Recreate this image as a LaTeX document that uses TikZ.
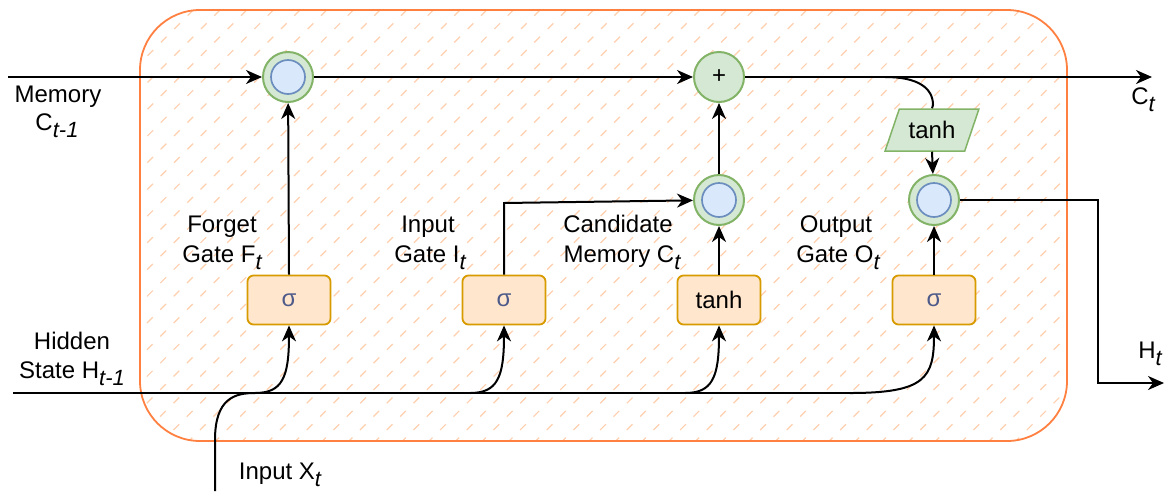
\documentclass[tikz,border=0pt]{standalone}
\usepackage{fontspec}
\setmainfont{Liberation Sans}
\usetikzlibrary{arrows.meta,shapes.geometric,calc}

\definecolor{opfill}{HTML}{D5E8D4}
\definecolor{opline}{HTML}{82B366}
\definecolor{inFill}{HTML}{DAE8FC}
\definecolor{inLine}{HTML}{6C8EBF}
\definecolor{gateFill}{HTML}{FFE6CC}
\definecolor{gateLine}{HTML}{D79B00}
\definecolor{cellLine}{HTML}{FF8040}
\definecolor{hatchCol}{HTML}{FFCFAE}
\definecolor{sigCol}{HTML}{4E5B8A}

% subscript set lower, in italics
\newcommand\lsub[1]{\raisebox{-0.33em}{\fontsize{22}{24}\selectfont\itshape #1}}

\tikzset{
  wire/.style={line width=2pt, black},
  arr/.style={wire, -{Stealth[length=16pt,width=14pt,inset=5pt]}},
  mulop/.style={circle, draw=opline, fill=opfill, line width=2pt, minimum size=50pt, inner sep=0pt},
  addop/.style={circle, draw=opline, fill=opfill, line width=2pt, minimum size=50pt, inner sep=0pt},
  innerop/.style={circle, draw=inLine, fill=inFill, line width=1.7pt, minimum size=34pt, inner sep=0pt},
  gatebox/.style={rectangle, rounded corners=6pt, draw=gateLine, fill=gateFill, line width=1.8pt,
                  minimum width=83pt, minimum height=49pt, inner sep=0pt},
  actshape/.style={trapezium, trapezium left angle=60, trapezium right angle=120, trapezium stretches=true,
                   draw=opline, fill=opfill, line width=1.5pt, minimum width=94pt, minimum height=42pt, inner sep=0pt},
  lbl/.style={align=center, inner sep=0pt, text height=17pt, text depth=5pt},
}

\begin{document}
\begin{tikzpicture}[x=1pt, y=-1pt, font=\fontsize{24}{29}\selectfont]
\useasboundingbox (0,0) rectangle (1166,491);

% LSTM cell with hatched background
\fill[white, rounded corners=60pt] (140,10) rectangle (1067,441);
\begin{scope}
  \clip[rounded corners=60pt] (140,10) rectangle (1067,441);
  \foreach \c in {150,176.67,...,1520}
    \draw[hatchCol, line width=1.2pt, dash pattern=on 8pt off 10.9pt]
      (\c-10,10) -- (\c-441,441);
\end{scope}
\draw[cellLine, line width=1.8pt, rounded corners=60pt] (140,10) rectangle (1067,441);

% pointwise operations
\node[mulop] (fmul) at (288,77) {};
\node[innerop] at (fmul) {};
\node[addop] (add) at (719,77) {+};
\node[mulop] (cmul) at (719,200) {};
\node[innerop] at (cmul) {};
\node[mulop] (omul) at (934,200) {};
\node[innerop] at (omul) {};

% gate layers
\node[gatebox, text=sigCol] (fg) at (289,300) {σ};
\node[gatebox, text=sigCol] (ig) at (504,300) {σ};
\node[gatebox] (cg) at (719,300) {tanh};
\node[gatebox, text=sigCol] (og) at (934,300) {σ};
\node[actshape] (act) at (932,130) {tanh};

% end points of the outer wires
\coordinate (cin) at (8,77);
\coordinate (cout) at (1152,77);
\coordinate (hin) at (13,393);
\coordinate (hcorner) at (1098,200);
\coordinate (hout) at (1164,383);
\coordinate (xin) at (215,491);
\coordinate (ibend) at (504,203);
\coordinate (tapC) at (885,77);

% cell state path
\draw[arr] (cin) -- (fmul);
\draw[arr] (fmul) -- (add);
\draw[arr] (add) -- (cout);
\draw[wire] (tapC) .. controls (918,77) and (933,88) .. (933,105) -- (act.north);
\draw[arr] (act.south) -- (omul);

% gate outputs
\draw[arr] (fg.north) -- (fmul);
\draw[arr] (ig.north) -- (ibend) -- (cmul);
\draw[arr] (cg.north) -- (cmul);
\draw[arr] (cmul) -- (add);
\draw[arr] (og.north) -- (omul);

% hidden state output
\draw[arr] (omul.east) -- (hcorner) |- (hout);

% hidden state and input feeding the gates
\draw[wire] (hin) -- (860,393);
\draw[arr] (xin) -- (215,440) .. controls (215,398) and (235,393) .. (255,393)
            .. controls (282,393) and (289,378) .. (fg.south);
\draw[arr] (470,393) .. controls (497,393) and (504,378) .. (ig.south);
\draw[arr] (685,393) .. controls (712,393) and (719,378) .. (cg.south);
\draw[arr] (850,393) .. controls (925,393) and (934,378) .. (og.south);

% labels
\node[lbl] at (58,96) {Memory};
\node[lbl] at (57,124) {C\lsub{t-1}};
\node[lbl] at (1143,98) {C\lsub{t}};
\node[lbl] at (222,226) {Forget};
\node[lbl] at (222,256) {Gate F\lsub{t}};
\node[lbl] at (428,226) {Input};
\node[lbl] at (430,256) {Gate I\lsub{t}};
\node[lbl] at (618,226) {Candidate};
\node[lbl] at (622,256) {Memory C\lsub{t}};
\node[lbl] at (836,226) {Output};
\node[lbl] at (838,256) {Gate O\lsub{t}};
\node[lbl] at (72,343) {Hidden};
\node[lbl] at (72,372) {State H\lsub{t-1}};
\node[lbl] at (280,473) {Input X\lsub{t}};
\node[lbl] at (1150,352) {H\lsub{t}};
\end{tikzpicture}
\end{document}
